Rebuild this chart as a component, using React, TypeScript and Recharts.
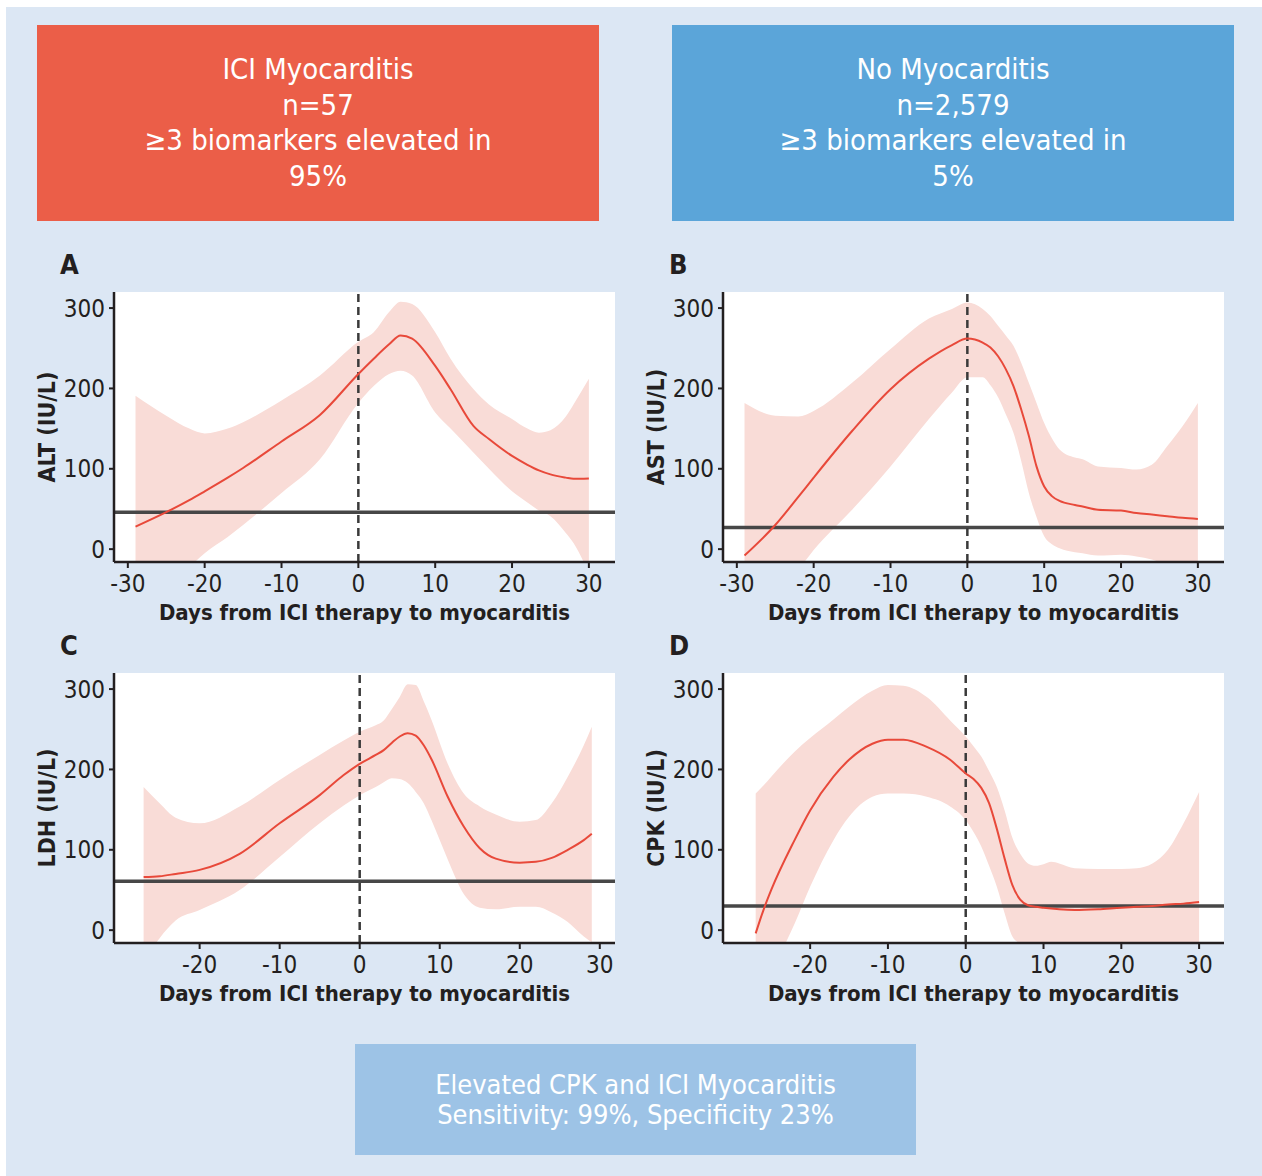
import React from "react"
import { ComposedChart, Area, Line, XAxis, YAxis, CartesianGrid, ReferenceLine, Label } from "recharts"

const FONT = "'Liberation Sans Narrow', 'DejaVu Sans Condensed', Roboto, sans-serif"

// panel A - ALT
const altDays = [-29, -25, -22, -20, -17, -15, -10, -5, 0, 2, 4, 5.5, 7, 10, 12, 15, 17, 20, 22, 23.5, 25, 27, 28, 30]
const altMean = [28, 46, 61, 72, 89, 101, 134, 167, 218, 237, 255, 266, 262, 228, 199, 153, 137, 116, 105, 98, 93, 89, 87.5, 88]
const altHi = [191, 166, 150, 144, 150, 158, 185, 216, 258, 270, 295, 308, 305, 270, 237, 199, 180, 162, 150, 145, 148, 165, 180, 212]
const altLo = [-60, -40, -22, -5, 15, 30, 70, 112, 182, 203, 218, 222, 216, 170, 150, 120, 100, 72, 58, 48, 41, 20, 7.5, -30]

// panel B - AST
const astDays = [-29, -25, -22, -20, -15, -10, -5, -2, 0, 2, 3, 4, 5, 6, 7, 8, 9, 10, 11, 12, 14, 15, 17, 20, 22, 24, 26, 28, 30]
const astMean = [-8, 30, 65, 89, 147, 199, 237, 254, 262, 257, 251, 240, 224, 203, 174, 141, 103, 78, 66, 60, 55, 53, 49, 48, 45, 43, 41, 39, 37.5]
const astHi = [182, 166, 165, 172, 207, 249, 287, 299, 307, 299, 290, 278, 266, 253, 232, 207, 182, 157, 138, 124, 114, 112, 103, 101, 99, 105, 128, 153, 182]
const astLo = [-70, -45, -25, -1, 49, 103, 162, 195, 214, 214, 204, 189, 168, 145, 110, 70, 40, 16, 6, 1, -4, -5, -8, -7, -9, -13, -20, -35, -50]

// panel C - LDH
const ldhDays = [-27, -25, -23, -20, -15, -10, -5, -2, 0, 2, 3, 4, 5, 6, 7, 8, 9, 11, 13, 15, 17, 20, 22, 24, 26, 28, 29]
const ldhMean = [66, 67, 70, 75, 95, 133, 168, 193, 207, 218, 224, 233, 241, 245, 242, 230, 212, 166, 129, 102, 89, 84, 85, 90, 100, 112, 120]
const ldhHi = [178, 158, 140, 133, 154, 187, 218, 236, 247, 255, 261, 275, 290, 306, 305, 285, 261, 207, 170, 154, 144, 135, 137, 158, 191, 230, 253]
const ldhLo = [-40, -10, 12, 25, 50, 91, 133, 155, 168, 178, 184, 189, 188, 183, 172, 158, 136, 88, 45, 28, 26, 29, 29, 22, 10, -8, -15]

// panel D - CPK
const cpkDays = [-27, -26, -25, -22, -20, -17, -15, -12, -10, -8, -5, -2, 0, 1, 2, 3, 4, 5, 6, 7, 8, 9, 10, 11, 12, 14, 17, 20, 22, 24, 26, 28, 30]
const cpkMean = [-4, 25, 50, 112, 149, 191, 212, 232, 237, 237, 228, 212, 195, 188, 177, 158, 126, 89, 56, 38, 31, 29, 28, 27, 26, 25, 26, 28, 29, 30, 32, 33, 35]
const cpkHi = [170, 180, 191, 222, 239, 262, 278, 298, 305, 304, 290, 261, 241, 229, 216, 198, 178, 149, 115, 95, 83, 80, 82, 85, 83, 77, 76, 76, 77, 83, 100, 133, 172]
const cpkLo = [-80, -65, -50, 8, 54, 112, 141, 166, 170, 170, 166, 154, 137, 122, 104, 80, 54, 21, -8, -17, -25, -30, -35, -40, -40, -40, -40, -40, -40, -40, -40, -40, -40]

const yTicks = [0, 100, 200, 300]
const xTicksFull = [-30, -20, -10, 0, 10, 20, 30]
const xTicksShort = [-20, -10, 0, 10, 20, 30]

const X_LABEL = "Days from ICI therapy to myocarditis"

interface PanelProps {
  letter: string
  yLabel: string
  days: number[]
  mean: number[]
  lo: number[]
  hi: number[]
  uln: number
  xDomain: [number, number]
  xTicks: number[]
  left: number
  top: number
}

function Panel({ letter, yLabel, days, mean, lo, hi, uln, xDomain, xTicks, left, top }: PanelProps) {
  const data = days.map((d, i) => ({ day: d, mean: mean[i], band: [lo[i], hi[i]] }))
  const tickStyle = { fontSize: 24, fill: "#231f20", fontFamily: FONT }
  return (
    <>
      <div
        style={{
          position: "absolute",
          left: left + 40,
          top: top - 31,
          fontFamily: FONT,
          fontWeight: 700,
          fontSize: 27,
          color: "#231f20",
        }}
      >
        {letter}
      </div>
      <div style={{ position: "absolute", left, top }}>
        <ComposedChart width={600} height={350} data={data} margin={{ top: 12, right: 5, left: 0, bottom: 0 }}>
          <CartesianGrid horizontal={false} vertical={false} fill="#ffffff" fillOpacity={1} />
          <XAxis
            type="number"
            dataKey="day"
            domain={xDomain}
            ticks={xTicks}
            allowDataOverflow
            height={68}
            tick={tickStyle}
            tickSize={6}
            tickMargin={7}
            stroke="#231f20"
            strokeWidth={2.5}
            tickLine={{ stroke: "#231f20", strokeWidth: 2 }}
          >
            <Label
              content={({ viewBox }: any) => (
                <text
                  x={viewBox.x + viewBox.width / 2}
                  y={viewBox.y + 58}
                  textAnchor="middle"
                  fontFamily={FONT}
                  fontWeight={700}
                  fontSize={22}
                  fill="#231f20"
                >
                  {X_LABEL}
                </text>
              )}
            />
          </XAxis>
          <YAxis
            type="number"
            domain={[-16, 320]}
            ticks={yTicks}
            allowDataOverflow
            width={94}
            tick={tickStyle}
            tickSize={5}
            tickMargin={4}
            stroke="#231f20"
            strokeWidth={2.5}
            tickLine={{ stroke: "#231f20", strokeWidth: 2 }}
          >
            <Label
              content={({ viewBox }: any) => {
                const cx = viewBox.x + 27
                const cy = viewBox.y + viewBox.height / 2
                return (
                  <text
                    x={cx}
                    y={cy}
                    transform={`rotate(-90 ${cx} ${cy})`}
                    textAnchor="middle"
                    dominantBaseline="central"
                    fontFamily={FONT}
                    fontWeight={700}
                    fontSize={23}
                    fill="#231f20"
                  >
                    {yLabel}
                  </text>
                )
              }}
            />
          </YAxis>
          <Area
            type="monotone"
            dataKey="band"
            stroke="none"
            fill="#f9dcd7"
            fillOpacity={1}
            isAnimationActive={false}
          />
          <ReferenceLine y={uln} stroke="#474747" strokeWidth={3.5} />
          <ReferenceLine x={0} stroke="#3a3a3a" strokeWidth={2.5} strokeDasharray="8 5" />
          <Line
            type="monotone"
            dataKey="mean"
            stroke="#e8493a"
            strokeWidth={2}
            dot={false}
            isAnimationActive={false}
          />
        </ComposedChart>
      </div>
    </>
  )
}

const boxText: React.CSSProperties = {
  position: "absolute",
  display: "flex",
  alignItems: "center",
  justifyContent: "center",
  textAlign: "center",
  color: "#ffffff",
  fontFamily: FONT,
}

export default function App() {
  return (
    <div style={{ position: "absolute", left: 0, top: 0, width: 1262, height: 1176, background: "#ffffff" }}>
      <div style={{ position: "absolute", left: 6, top: 7, right: 0, bottom: 0, background: "#dce7f4" }} />
      <div style={{ ...boxText, left: 37, top: 25, width: 562, height: 196, background: "#eb5e48", fontSize: 29, lineHeight: "35.5px" }}>
        ICI Myocarditis
        <br />
        n=57
        <br />
        ≥3 biomarkers elevated in
        <br />
        95%
      </div>
      <div style={{ ...boxText, left: 672, top: 25, width: 562, height: 196, background: "#5ba5d9", fontSize: 29, lineHeight: "35.5px" }}>
        No Myocarditis
        <br />
        n=2,579
        <br />
        ≥3 biomarkers elevated in
        <br />
        5%
      </div>
      <Panel letter="A" yLabel="ALT (IU/L)" days={altDays} mean={altMean} lo={altLo} hi={altHi} uln={46}
        xDomain={[-31.8, 33.4]} xTicks={xTicksFull} left={20} top={280} />
      <Panel letter="B" yLabel="AST (IU/L)" days={astDays} mean={astMean} lo={astLo} hi={astHi} uln={27}
        xDomain={[-31.8, 33.4]} xTicks={xTicksFull} left={629} top={280} />
      <Panel letter="C" yLabel="LDH (IU/L)" days={ldhDays} mean={ldhMean} lo={ldhLo} hi={ldhHi} uln={61}
        xDomain={[-30.7, 31.9]} xTicks={xTicksShort} left={20} top={661} />
      <Panel letter="D" yLabel="CPK (IU/L)" days={cpkDays} mean={cpkMean} lo={cpkLo} hi={cpkHi} uln={30}
        xDomain={[-31.2, 33.2]} xTicks={xTicksShort} left={629} top={661} />
      <div style={{ ...boxText, left: 355, top: 1044, width: 561, height: 111, background: "#9dc3e6", fontSize: 27, lineHeight: "30px" }}>
        Elevated CPK and ICI Myocarditis
        <br />
        Sensitivity: 99%, Specificity 23%
      </div>
    </div>
  )
}
